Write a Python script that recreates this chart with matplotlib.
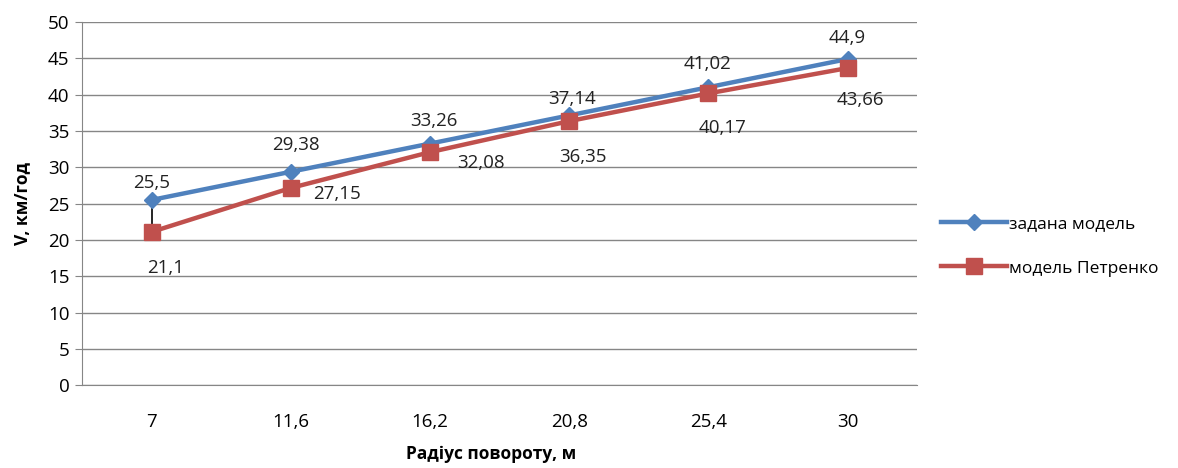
import numpy as np
import matplotlib
matplotlib.use("Agg")
from matplotlib import pyplot as plt

plt.rcParams['font.family'] = ['Open Sans', 'DejaVu Sans']

radius = ['7', '11,6', '16,2', '20,8', '25,4', '30']
v_given = [25.5, 29.38, 33.26, 37.14, 41.02, 44.9]
v_petrenko = [21.1, 27.15, 32.08, 36.35, 40.17, 43.66]

# label offsets in points (dx, dy)
blue_off = [(0, 12), (4, 19), (3, 16), (2, 12), (-1, 17), (0, 15)]
red_off = [(10, -26), (33, -4), (37, -8), (10, -26), (10, -25), (9, -23)]

blue = '#4F81BD'
red = '#C0504D'

def fmt(v):
    return ('%g' % v).replace('.', ',')

fig = plt.figure(figsize=(11.78, 4.68), dpi=100)
ax = fig.add_axes([0.0696, 0.177, 0.709, 0.776])
x = np.arange(len(radius))

# high-low lines between the two series
ax.vlines(x, v_petrenko, v_given, color='black', lw=1.2, zorder=2)
ax.plot(x, v_given, color=blue, lw=3.2, marker='D', ms=8, label='задана модель', zorder=3)
ax.plot(x, v_petrenko, color=red, lw=3.2, marker='s', ms=11, label='модель Петренко', zorder=3)

for i, v in enumerate(v_given):
    dx, dy = blue_off[i]
    ax.annotate(fmt(v), (x[i], v), xytext=(dx, dy), textcoords='offset points',
                ha='center', va='center', fontsize=13.5, color='#222222')
for i, v in enumerate(v_petrenko):
    dx, dy = red_off[i]
    ax.annotate(fmt(v), (x[i], v), xytext=(dx, dy), textcoords='offset points',
                ha='center', va='center', fontsize=13.5, color='#222222')

ax.set_xlim(-0.5, len(radius) - 0.5)
ax.set_ylim(0, 50)
ax.set_yticks(range(0, 51, 5))
ax.set_xticks(x)
ax.set_xticklabels(radius)
ax.tick_params(axis='x', length=0, pad=20, labelsize=13.5)
ax.tick_params(axis='y', length=5, color='#868686', labelsize=13.5, pad=4)
ax.grid(axis='y', color='#868686', lw=1)
ax.set_axisbelow(True)
for s in ['top', 'right']:
    ax.spines[s].set_visible(False)
ax.spines['left'].set_color('#868686')
ax.spines['bottom'].set_color('#868686')

ax.set_xlabel('Радіус повороту, м', fontsize=12.5, fontweight='bold')
ax.xaxis.set_label_coords(0.49, -0.165)
ax.set_ylabel('V, км/год', fontsize=12.5, fontweight='bold', labelpad=12)

ax.legend(loc='center left', bbox_to_anchor=(1.01, 0.383), frameon=False,
          fontsize=12.5, handlelength=3.8, labelspacing=1.65, handletextpad=0.1)

fig.savefig('out.png', dpi=100)
